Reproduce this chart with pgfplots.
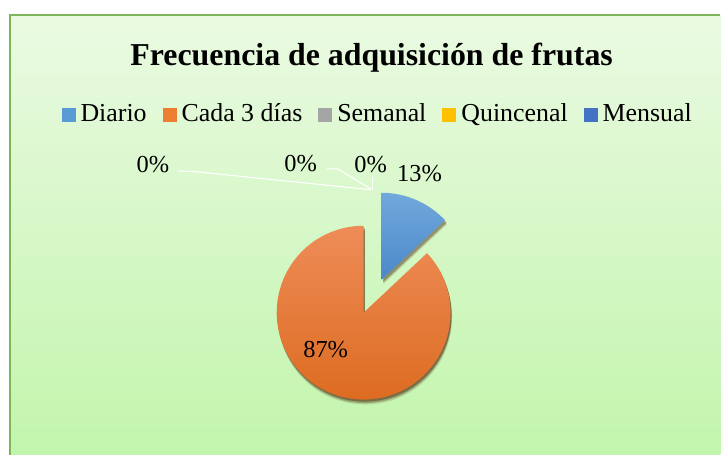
\documentclass[border=0pt]{standalone}
\usepackage{fontspec}
\setmainfont{Liberation Serif}
\usepackage{pgfplots}
\usepackage{pgfplotstable}
\pgfplotsset{compat=1.18}

\definecolor{bgtop}{HTML}{EAFAE2}
\definecolor{bgbot}{HTML}{C2F5AC}
\definecolor{frame}{HTML}{7DB55A}
\definecolor{cdiario}{HTML}{5B9BD5}
\definecolor{ccada}{HTML}{ED7D31}
\definecolor{csemanal}{HTML}{A5A5A5}
\definecolor{cquincenal}{HTML}{FFC000}
\definecolor{cmensual}{HTML}{4472C4}
\definecolor{bluetop}{HTML}{72A9DC}
\definecolor{bluebot}{HTML}{4A88C9}
\definecolor{orangetop}{HTML}{EE8C58}
\definecolor{orangebot}{HTML}{DC6A1E}
\definecolor{shadowc}{HTML}{4A2208}

\pgfplotstableread{
cat value
Diario 13
Cada3dias 87
Semanal 0
Quincenal 0
Mensual 0
}\piedata
\pgfplotstablegetelem{0}{value}\of\piedata \let\vA\pgfplotsretval
\pgfplotstablegetelem{1}{value}\of\piedata \let\vB\pgfplotsretval
\pgfplotstablegetelem{2}{value}\of\piedata \let\vC\pgfplotsretval
\pgfplotstablegetelem{3}{value}\of\piedata \let\vD\pgfplotsretval
\pgfplotstablegetelem{4}{value}\of\piedata \let\vE\pgfplotsretval
\pgfmathsetmacro\aA{90-3.6*\vA}
\pgfmathsetmacro\aB{\aA-3.6*\vB}

\begin{document}
\begin{tikzpicture}
\begin{axis}[
  x=1bp, y=1bp, xmin=0, xmax=721, ymin=0, ymax=455,
  scale only axis, hide axis, clip=false,
  legend image code/.code={\fill[#1, draw=none] (0bp,0bp) rectangle (14bp,14bp);},
  legend columns=5,
  legend style={at={(rel axis cs:0.523,0.732)}, anchor=base, draw=none, fill=none,
    font=\fontsize{26}{30}\selectfont, inner sep=0pt,
    nodes={inner sep=0pt, anchor=base},
    /tikz/every odd column/.append style={column sep=5bp},
    /tikz/every even column/.append style={column sep=16bp}},
]
% background
\fill[white] (axis cs:0,0) rectangle (axis cs:721,455);
\shade[top color=bgtop, bottom color=bgbot] (axis cs:10,0) rectangle (axis cs:721,440);
\draw[frame, line width=1.5bp] (axis cs:10,0) -- (axis cs:10,440) -- (axis cs:721,440);

% title
\node[anchor=base, font=\bfseries\fontsize{32}{38}\selectfont] at (axis cs:372,389) {Frecuencia de adquisición de frutas};

% legend
\addlegendimage{draw=none, fill=cdiario}
\addlegendentry{Diario}
\addlegendimage{draw=none, fill=ccada}
\addlegendentry{Cada 3 días}
\addlegendimage{draw=none, fill=csemanal}
\addlegendentry{Semanal}
\addlegendimage{draw=none, fill=cquincenal}
\addlegendentry{Quincenal}
\addlegendimage{draw=none, fill=cmensual}
\addlegendentry{Mensual}

% shadows of the slices
\fill[shadowc, opacity=0.15] (axis cs:365.5,137) -- ++(\aA:87bp) arc[start angle=\aA, end angle=\aB, radius=87bp] -- cycle;
\fill[shadowc, opacity=0.30] (axis cs:365.2,138.5) -- ++(\aA:87bp) arc[start angle=\aA, end angle=\aB, radius=87bp] -- cycle;
\fill[shadowc, opacity=0.40] (axis cs:365,140) -- ++(\aA:87bp) arc[start angle=\aA, end angle=\aB, radius=87bp] -- cycle;
\fill[shadowc, opacity=0.20] (axis cs:384,171) -- ++(90:87bp) arc[start angle=90, end angle=\aA, radius=87bp] -- cycle;
\fill[shadowc, opacity=0.35] (axis cs:383.5,172.5) -- ++(90:87bp) arc[start angle=90, end angle=\aA, radius=87bp] -- cycle;

% slices
\shade[top color=orangetop, bottom color=orangebot] (axis cs:364,142) -- ++(\aA:87bp) arc[start angle=\aA, end angle=\aB, radius=87bp] -- cycle;
\shade[top color=bluetop, bottom color=bluebot] (axis cs:382,175) -- ++(90:87bp) arc[start angle=90, end angle=\aA, radius=87bp] -- cycle;

% leader lines
\addplot[white, line width=1.1bp, no marks] coordinates {(178,284) (197,283) (372,265)};
\addplot[white, line width=1.1bp, no marks] coordinates {(327,286) (338,286) (371,266)};
\addplot[white, line width=1.1bp, no marks] coordinates {(373,278) (373,265)};

% data labels
\begin{scope}[font=\fontsize{24.5}{28}\selectfont]
\node[anchor=base] at (axis cs:420,273) {\vA\%};
\node[anchor=base] at (axis cs:326,97) {\vB\%};
\node[anchor=base] at (axis cs:371,282) {\vC\%};
\node[anchor=base] at (axis cs:301,283) {\vD\%};
\node[anchor=base] at (axis cs:153,282) {\vE\%};
\end{scope}
\end{axis}
\end{tikzpicture}
\end{document}
